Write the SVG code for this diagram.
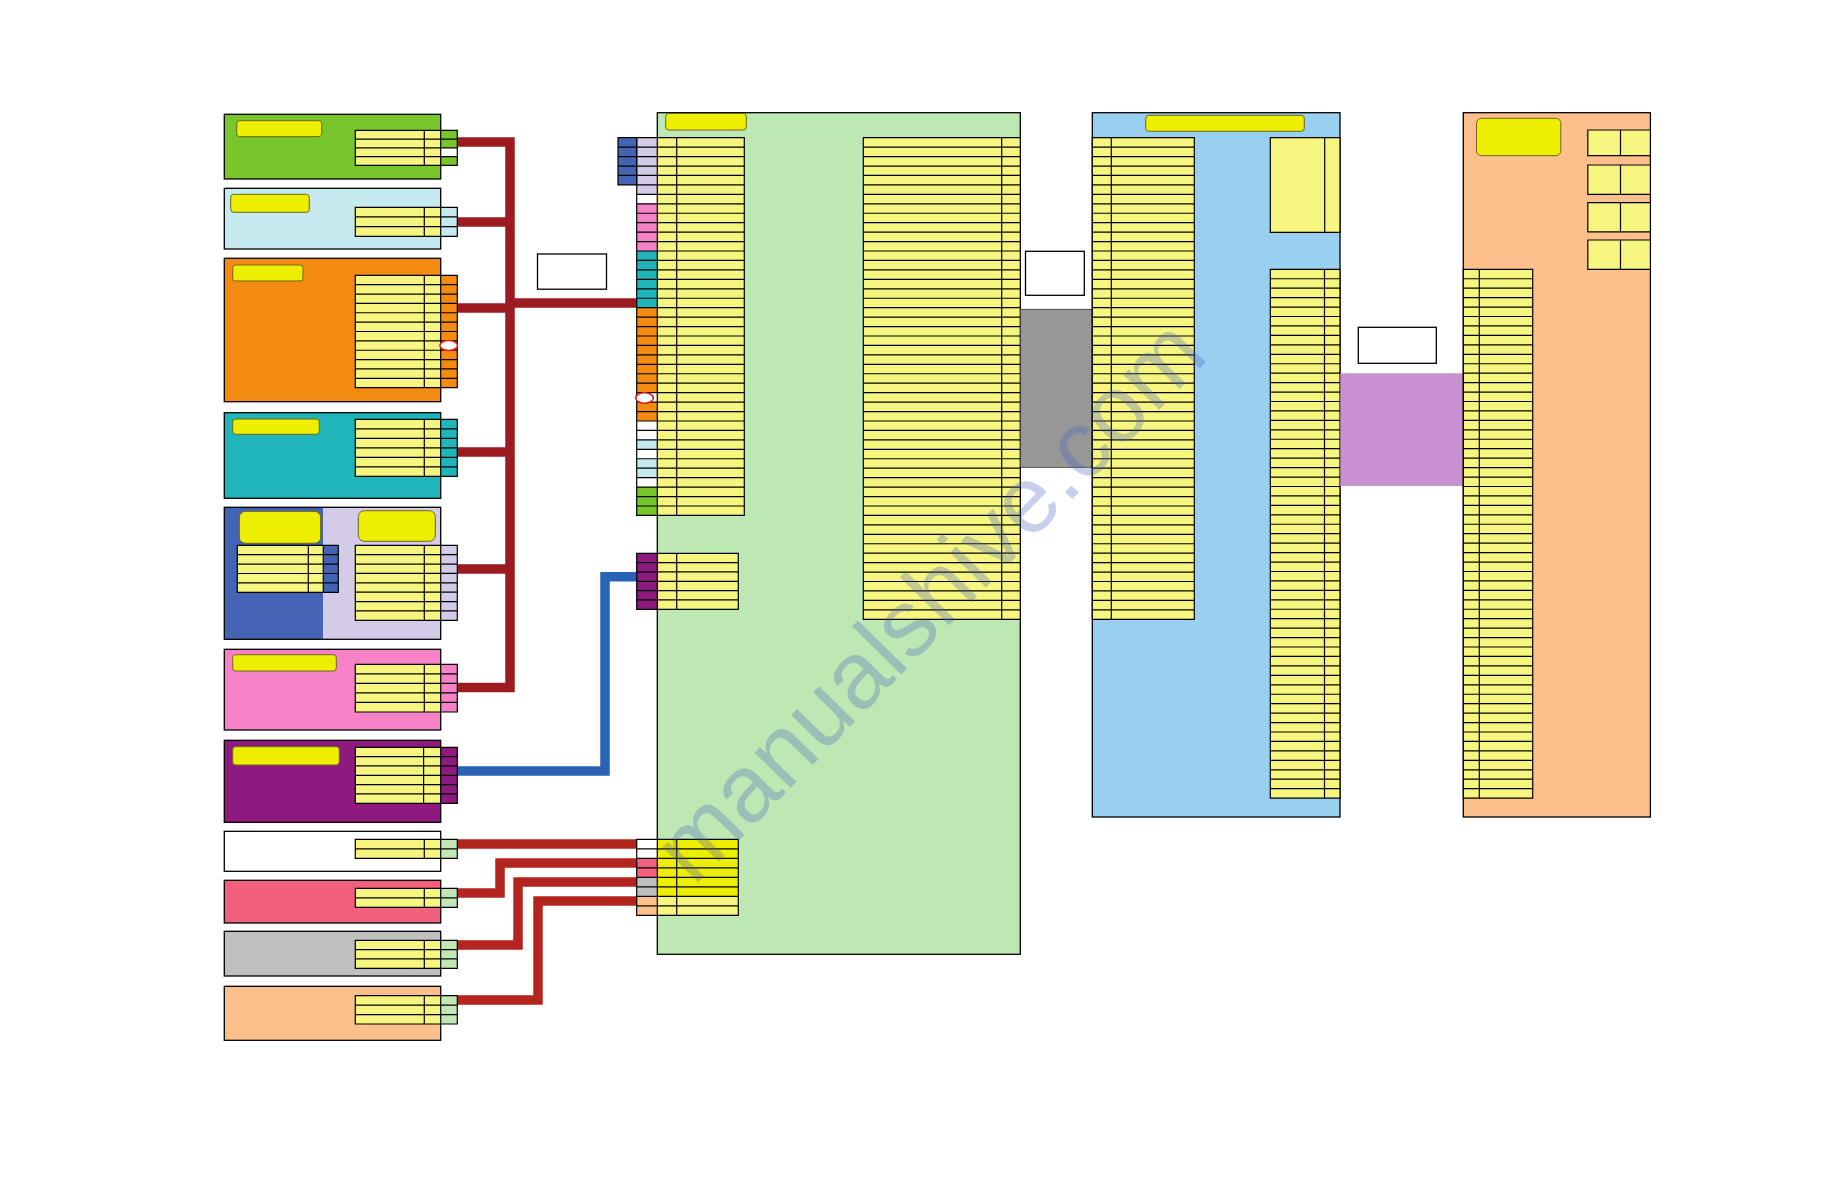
<svg xmlns="http://www.w3.org/2000/svg" width="1836" height="1188" viewBox="0 0 1836 1188">
<style>
.box{stroke:#000;stroke-width:1.3}
.tb{stroke:#000;stroke-width:1.2;fill:none}
.y{fill:#f5f580}
.yb{fill:#eeee00}
.lbl{fill:#eeee00;stroke:#6e6420;stroke-width:1}
.wb{fill:#fff;stroke:#000;stroke-width:1.3}
.red{stroke:#9b1b20;stroke-width:9.5;fill:none}
.red2{stroke:#b3241f;stroke-width:9.5;fill:none}
.blue{stroke:#2a62b6;stroke-width:9.5;fill:none}
.oval{fill:#fff;stroke:#e02020;stroke-width:1.6}
.lg{fill:#c2e6b4}
</style>
<rect width="1836" height="1188" fill="#fff"/>

<g id="connectors">
<path class="red" d="M457.3,142H510V687.5H457.3 M457.3,222H510 M457.3,308H510 M457.3,452H510 M457.3,569H510 M510,303H636.7"/>
<path class="red2" d="M457.3,844H636.7 M457.3,893H500V863H636.7 M457.3,945H518V882H636.7 M457.3,1000H538V901H636.7"/>
<path class="blue" d="M457.3,771H605V576.7H636.7"/>
</g>

<g id="n-green">
<rect class="box" x="224.3" y="114.3" width="216.4" height="64.7" fill="#77c62c"/>
<rect class="lbl" x="236.7" y="120.7" width="85" height="16" rx="3"/>
<rect class="y" x="355.3" y="130.3" width="85.4" height="35"/>
<rect x="440.7" y="130.3" width="16.6" height="35" fill="#77c62c"/>
<rect x="440.7" y="147.8" width="16.6" height="8.75" fill="#fff"/>
<path class="tb" d="M355.3,130.3h102v35h-102z M424.3,130.3v35 M440.7,130.3v35 M355.3,139.05h102 M355.3,147.8h102 M355.3,156.55h102"/>
</g>

<g id="n-lightblue">
<rect class="box" x="224.3" y="188.3" width="216.4" height="60.7" fill="#c5e9ee"/>
<rect class="lbl" x="230.7" y="194.3" width="78.6" height="18" rx="3"/>
<rect class="y" x="355.3" y="207.3" width="85.4" height="29"/>
<rect x="440.7" y="207.3" width="16.6" height="29" fill="#c5e9ee"/>
<path class="tb" d="M355.3,207.3h102v29h-102z M424.3,207.3v29 M440.7,207.3v29 M355.3,216.97h102 M355.3,226.63h102"/>
</g>

<g id="n-orange">
<rect class="box" x="224.3" y="258.3" width="216.4" height="143.4" fill="#f38b12"/>
<rect class="lbl" x="232.7" y="265" width="70.3" height="16" rx="3"/>
<rect class="y" x="355.3" y="275.3" width="85.4" height="112.4"/>
<rect x="440.7" y="275.3" width="16.6" height="112.4" fill="#f38b12"/>
<path class="tb" d="M355.3,275.3h102v112.4h-102z M424.3,275.3v112.4 M440.7,275.3v112.4 M355.3,284.67h102 M355.3,294.03h102 M355.3,303.4h102 M355.3,312.77h102 M355.3,322.13h102 M355.3,331.5h102 M355.3,340.87h102 M355.3,350.23h102 M355.3,359.6h102 M355.3,368.97h102 M355.3,378.33h102"/>
<ellipse class="oval" cx="448.7" cy="345.5" rx="8.8" ry="5"/>
</g>

<g id="n-teal">
<rect class="box" x="224.3" y="412.7" width="216.4" height="85.6" fill="#20b5bb"/>
<rect class="lbl" x="232.7" y="419" width="86.6" height="15.3" rx="3"/>
<rect class="y" x="355.3" y="419.3" width="85.4" height="57"/>
<rect x="440.7" y="419.3" width="16.6" height="57" fill="#20b5bb"/>
<path class="tb" d="M355.3,419.3h102v57h-102z M424.3,419.3v57 M440.7,419.3v57 M355.3,428.8h102 M355.3,438.3h102 M355.3,447.8h102 M355.3,457.3h102 M355.3,466.8h102"/>
</g>

<g id="n-bluelav">
<rect x="224.3" y="507.3" width="216.4" height="132" fill="#d3cbe8"/>
<rect x="224.3" y="507.3" width="98.7" height="132" fill="#4363b5"/>
<rect class="box" x="224.3" y="507.3" width="216.4" height="132" fill="none"/>
<rect class="lbl" x="239.3" y="511.3" width="81.4" height="32" rx="6"/>
<rect class="lbl" x="358.3" y="510.7" width="77" height="30.6" rx="6"/>
<rect class="y" x="237.3" y="545.3" width="86" height="47"/>
<rect x="323.3" y="545.3" width="15" height="47" fill="#4363b5"/>
<path class="tb" d="M237.3,545.3h101v47h-101z M308.3,545.3v47 M323.3,545.3v47 M237.3,554.7h101 M237.3,564.1h101 M237.3,573.5h101 M237.3,582.9h101"/>
<rect class="y" x="355.3" y="545.3" width="85.4" height="75"/>
<rect x="440.7" y="545.3" width="16.6" height="75" fill="#d3cbe8"/>
<path class="tb" d="M355.3,545.3h102v75h-102z M424.3,545.3v75 M440.7,545.3v75 M355.3,554.675h102 M355.3,564.05h102 M355.3,573.425h102 M355.3,582.8h102 M355.3,592.175h102 M355.3,601.55h102 M355.3,610.925h102"/>
</g>

<g id="n-pink">
<rect class="box" x="224.3" y="649.3" width="216.4" height="80.7" fill="#f582c6"/>
<rect class="lbl" x="232.7" y="654.7" width="103.6" height="16.3" rx="3"/>
<rect class="y" x="355.3" y="664.3" width="85.4" height="47.7"/>
<rect x="440.7" y="664.3" width="16.6" height="47.7" fill="#f582c6"/>
<path class="tb" d="M355.3,664.3h102v47.7h-102z M424.3,664.3v47.7 M440.7,664.3v47.7 M355.3,673.84h102 M355.3,683.38h102 M355.3,692.92h102 M355.3,702.46h102"/>
</g>

<g id="n-purple">
<rect class="box" x="224.3" y="740.3" width="216.4" height="82" fill="#8e1a80"/>
<rect class="lbl" x="232.7" y="746.7" width="106.6" height="18.3" rx="3"/>
<rect class="y" x="355.3" y="747.3" width="85.4" height="56"/>
<rect x="440.7" y="747.3" width="16.6" height="56" fill="#8e1a80"/>
<path class="tb" d="M355.3,747.3h102v56h-102z M423.6,747.3v56 M440.7,747.3v56 M355.3,756.63h102 M355.3,765.97h102 M355.3,775.3h102 M355.3,784.63h102 M355.3,793.97h102"/>
</g>

<g id="n-white">
<rect class="box" x="224.3" y="831.3" width="216.4" height="40" fill="#fff"/>
<rect class="y" x="355.3" y="839.3" width="85.4" height="19"/>
<rect class="lg" x="440.7" y="839.3" width="16.6" height="19"/>
<path class="tb" d="M355.3,839.3h102v19h-102z M424.3,839.3v19 M440.7,839.3v19 M355.3,848.8h102"/>
</g>

<g id="n-pinkred">
<rect class="box" x="224.3" y="880.3" width="216.4" height="42.7" fill="#f1617d"/>
<rect class="y" x="355.3" y="888.3" width="85.4" height="19"/>
<rect class="lg" x="440.7" y="888.3" width="16.6" height="19"/>
<path class="tb" d="M355.3,888.3h102v19h-102z M424.3,888.3v19 M440.7,888.3v19 M355.3,897.8h102"/>
</g>

<g id="n-gray">
<rect class="box" x="224.3" y="931.3" width="216.4" height="44.7" fill="#c0c0c0"/>
<rect class="y" x="355.3" y="940.3" width="85.4" height="28"/>
<rect class="lg" x="440.7" y="940.3" width="16.6" height="28"/>
<path class="tb" d="M355.3,940.3h102v28h-102z M424.3,940.3v28 M440.7,940.3v28 M355.3,949.63h102 M355.3,958.97h102"/>
</g>

<g id="n-peachsmall">
<rect class="box" x="224.3" y="986.3" width="216.4" height="54" fill="#fdc08d"/>
<rect class="y" x="355.3" y="995.7" width="85.4" height="28.3"/>
<rect class="lg" x="440.7" y="995.7" width="16.6" height="28.3"/>
<path class="tb" d="M355.3,995.7h102v28.3h-102z M424.3,995.7v28.3 M440.7,995.7v28.3 M355.3,1005.13h102 M355.3,1014.57h102"/>
</g>

<g id="n-box-a"><rect class="wb" x="537.5" y="254" width="69" height="35.2"/></g>

<g id="n-main">
<rect class="box" x="657.3" y="112.7" width="363" height="841.6" fill="#bee8b3"/>
<rect class="lbl" x="665.7" y="113.5" width="80.6" height="16.5" rx="3"/>
<rect class="y" x="657.3" y="137.7" width="87" height="377.7"/>
<rect x="636.7" y="137.7" width="20.6" height="56.66" fill="#d3cbe8"/>
<rect x="636.7" y="194.36" width="20.6" height="9.44" fill="#fff"/>
<rect x="636.7" y="203.8" width="20.6" height="47.2" fill="#f582c6"/>
<rect x="636.7" y="251" width="20.6" height="56.68" fill="#20b5bb"/>
<rect x="636.7" y="307.68" width="20.6" height="84.99" fill="#f38b12"/>
<rect x="636.7" y="392.67" width="20.6" height="9.44" fill="#fff"/>
<rect x="636.7" y="402.1" width="20.6" height="18.89" fill="#f38b12"/>
<rect x="636.7" y="420.99" width="20.6" height="18.89" fill="#fff"/>
<rect x="636.7" y="439.88" width="20.6" height="9.44" fill="#c5e9ee"/>
<rect x="636.7" y="449.32" width="20.6" height="9.44" fill="#fff"/>
<rect x="636.7" y="458.76" width="20.6" height="18.89" fill="#c5e9ee"/>
<rect x="636.7" y="477.65" width="20.6" height="9.44" fill="#fff"/>
<rect x="636.7" y="487.09" width="20.6" height="28.31" fill="#77c62c"/>
<rect x="618" y="137.7" width="18.7" height="47.215" fill="#4363b5"/>
<path class="tb" d="M618,137.7h18.7v47.215h-18.7z M618,147.143h18.7 m-18.7,9.443h18.7 m-18.7,9.443h18.7 m-18.7,9.443h18.7"/>
<path class="tb" d="M636.7,137.7h107.6v377.7h-107.6z M657.3,137.7v377.7 M676.7,137.7v377.7
M636.7,147.143h107.6
m-107.6,9.443h107.6 m-107.6,9.443h107.6 m-107.6,9.443h107.6 m-107.6,9.443h107.6 m-107.6,9.443h107.6
m-107.6,9.443h107.6 m-107.6,9.443h107.6 m-107.6,9.443h107.6 m-107.6,9.443h107.6 m-107.6,9.443h107.6
m-107.6,9.443h107.6 m-107.6,9.443h107.6 m-107.6,9.443h107.6 m-107.6,9.443h107.6 m-107.6,9.443h107.6
m-107.6,9.443h107.6 m-107.6,9.443h107.6 m-107.6,9.443h107.6 m-107.6,9.443h107.6 m-107.6,9.443h107.6
m-107.6,9.443h107.6 m-107.6,9.443h107.6 m-107.6,9.443h107.6 m-107.6,9.443h107.6 m-107.6,9.443h107.6
m-107.6,9.443h107.6 m-107.6,9.443h107.6 m-107.6,9.443h107.6 m-107.6,9.443h107.6 m-107.6,9.443h107.6
m-107.6,9.443h107.6 m-107.6,9.443h107.6 m-107.6,9.443h107.6 m-107.6,9.443h107.6 m-107.6,9.443h107.6
m-107.6,9.443h107.6 m-107.6,9.443h107.6 m-107.6,9.443h107.6"/>
<ellipse class="oval" cx="644.5" cy="398" rx="8.8" ry="5.3"/>
<rect class="y" x="657.3" y="553.3" width="81" height="56"/>
<rect x="636.7" y="553.3" width="20.6" height="56" fill="#8e1a80"/>
<path class="tb" d="M636.7,553.3h101.6v56h-101.6z M657.3,553.3v56 M676.7,553.3v56 M636.7,562.63h101.6 M636.7,571.97h101.6 M636.7,581.3h101.6 M636.7,590.63h101.6 M636.7,599.97h101.6"/>
<rect class="yb" x="657.3" y="839.3" width="81" height="57"/>
<rect class="y" x="657.3" y="896.3" width="81" height="19"/>
<rect x="636.7" y="839.3" width="20.6" height="19" fill="#fff"/>
<rect x="636.7" y="858.3" width="20.6" height="19" fill="#f1617d"/>
<rect x="636.7" y="877.3" width="20.6" height="19" fill="#c0c0c0"/>
<rect x="636.7" y="896.3" width="20.6" height="19" fill="#fdc08d"/>
<path class="tb" d="M636.7,839.3h101.6v76h-101.6z M657.3,839.3v76 M676.7,839.3v76 M636.7,848.8h101.6 M636.7,858.3h101.6 M636.7,867.8h101.6 M636.7,877.3h101.6 M636.7,886.8h101.6 M636.7,896.3h101.6 M636.7,905.8h101.6"/>
<rect class="y" x="863.3" y="137.7" width="157" height="481.6"/>
<path class="tb" d="M863.3,137.7h157v481.6h-157z M1001.7,137.7v481.6
M863.3,147.143h157
m-157,9.443h157 m-157,9.443h157 m-157,9.443h157 m-157,9.443h157 m-157,9.443h157
m-157,9.443h157 m-157,9.443h157 m-157,9.443h157 m-157,9.443h157 m-157,9.443h157
m-157,9.443h157 m-157,9.443h157 m-157,9.443h157 m-157,9.443h157 m-157,9.443h157
m-157,9.443h157 m-157,9.443h157 m-157,9.443h157 m-157,9.443h157 m-157,9.443h157
m-157,9.443h157 m-157,9.443h157 m-157,9.443h157 m-157,9.443h157 m-157,9.443h157
m-157,9.443h157 m-157,9.443h157 m-157,9.443h157 m-157,9.443h157 m-157,9.443h157
m-157,9.443h157 m-157,9.443h157 m-157,9.443h157 m-157,9.443h157 m-157,9.443h157
m-157,9.443h157 m-157,9.443h157 m-157,9.443h157 m-157,9.443h157 m-157,9.443h157
m-157,9.443h157 m-157,9.443h157 m-157,9.443h157 m-157,9.443h157 m-157,9.443h157
m-157,9.443h157 m-157,9.443h157 m-157,9.443h157 m-157,9.443h157"/>
</g>

<g id="n-band-gray">
<rect x="1020.3" y="309.3" width="72" height="158" fill="#979797" stroke="#333" stroke-width="0.8"/>
</g>
<g id="n-box-b"><rect class="wb" x="1025.5" y="251.3" width="58.8" height="44"/></g>

<g id="n-blue">
<rect class="box" x="1092.3" y="112.7" width="247.7" height="704.3" fill="#99cff0"/>
<rect class="lbl" x="1145.7" y="115.3" width="158.6" height="16" rx="3"/>
<rect class="y" x="1092.3" y="137.7" width="102" height="481.6"/>
<path class="tb" d="M1092.3,137.7h102v481.6h-102z M1111.3,137.7v481.6
M1092.3,147.143h102
m-102,9.443h102 m-102,9.443h102 m-102,9.443h102 m-102,9.443h102 m-102,9.443h102
m-102,9.443h102 m-102,9.443h102 m-102,9.443h102 m-102,9.443h102 m-102,9.443h102
m-102,9.443h102 m-102,9.443h102 m-102,9.443h102 m-102,9.443h102 m-102,9.443h102
m-102,9.443h102 m-102,9.443h102 m-102,9.443h102 m-102,9.443h102 m-102,9.443h102
m-102,9.443h102 m-102,9.443h102 m-102,9.443h102 m-102,9.443h102 m-102,9.443h102
m-102,9.443h102 m-102,9.443h102 m-102,9.443h102 m-102,9.443h102 m-102,9.443h102
m-102,9.443h102 m-102,9.443h102 m-102,9.443h102 m-102,9.443h102 m-102,9.443h102
m-102,9.443h102 m-102,9.443h102 m-102,9.443h102 m-102,9.443h102 m-102,9.443h102
m-102,9.443h102 m-102,9.443h102 m-102,9.443h102 m-102,9.443h102 m-102,9.443h102
m-102,9.443h102 m-102,9.443h102 m-102,9.443h102 m-102,9.443h102"/>
<rect class="y" x="1270.3" y="137.7" width="69.7" height="94.6"/>
<path class="tb" d="M1270.3,137.7h69.7v94.6h-69.7z M1324.7,137.7v94.6"/>
<rect class="y" x="1270.3" y="269.3" width="69.7" height="528.8"/>
<path class="tb" d="M1270.3,269.3h69.7v528.8h-69.7z M1324.5,269.3v528.8
M1270.3,278.743h69.7
m-69.7,9.443h69.7 m-69.7,9.443h69.7 m-69.7,9.443h69.7 m-69.7,9.443h69.7 m-69.7,9.443h69.7
m-69.7,9.443h69.7 m-69.7,9.443h69.7 m-69.7,9.443h69.7 m-69.7,9.443h69.7 m-69.7,9.443h69.7
m-69.7,9.443h69.7 m-69.7,9.443h69.7 m-69.7,9.443h69.7 m-69.7,9.443h69.7 m-69.7,9.443h69.7
m-69.7,9.443h69.7 m-69.7,9.443h69.7 m-69.7,9.443h69.7 m-69.7,9.443h69.7 m-69.7,9.443h69.7
m-69.7,9.443h69.7 m-69.7,9.443h69.7 m-69.7,9.443h69.7 m-69.7,9.443h69.7 m-69.7,9.443h69.7
m-69.7,9.443h69.7 m-69.7,9.443h69.7 m-69.7,9.443h69.7 m-69.7,9.443h69.7 m-69.7,9.443h69.7
m-69.7,9.443h69.7 m-69.7,9.443h69.7 m-69.7,9.443h69.7 m-69.7,9.443h69.7 m-69.7,9.443h69.7
m-69.7,9.443h69.7 m-69.7,9.443h69.7 m-69.7,9.443h69.7 m-69.7,9.443h69.7 m-69.7,9.443h69.7
m-69.7,9.443h69.7 m-69.7,9.443h69.7 m-69.7,9.443h69.7 m-69.7,9.443h69.7 m-69.7,9.443h69.7
m-69.7,9.443h69.7 m-69.7,9.443h69.7 m-69.7,9.443h69.7 m-69.7,9.443h69.7 m-69.7,9.443h69.7
m-69.7,9.443h69.7 m-69.7,9.443h69.7 m-69.7,9.443h69.7 m-69.7,9.443h69.7"/>
</g>

<g id="n-band-purple">
<rect x="1340.3" y="373.3" width="123" height="112.7" fill="#c792cf"/>
</g>
<g id="n-box-c"><rect class="wb" x="1358.3" y="327.3" width="78" height="36"/></g>

<g id="n-peach">
<rect class="box" x="1463.3" y="112.7" width="187.1" height="704.3" fill="#fdc08d"/>
<rect class="lbl" x="1476.5" y="118.3" width="84.3" height="37.4" rx="5"/>
<rect class="y" x="1587.8" y="130" width="62.6" height="25.7"/>
<rect class="y" x="1587.8" y="165" width="62.6" height="29.4"/>
<rect class="y" x="1587.8" y="202.6" width="62.6" height="29.2"/>
<rect class="y" x="1587.8" y="240" width="62.6" height="29.3"/>
<path class="tb" d="M1587.8,130h62.6v25.7h-62.6z M1620.5,130v25.7 M1587.8,165h62.6v29.4h-62.6z M1620.5,165v29.4 M1587.8,202.6h62.6v29.2h-62.6z M1620.5,202.6v29.2 M1587.8,240h62.6v29.3h-62.6z M1620.5,240v29.3"/>
<rect class="y" x="1463.3" y="269.3" width="69.4" height="528.8"/>
<path class="tb" d="M1463.3,269.3h69.4v528.8h-69.4z M1479.3,269.3v528.8
M1463.3,278.743h69.4
m-69.4,9.443h69.4 m-69.4,9.443h69.4 m-69.4,9.443h69.4 m-69.4,9.443h69.4 m-69.4,9.443h69.4
m-69.4,9.443h69.4 m-69.4,9.443h69.4 m-69.4,9.443h69.4 m-69.4,9.443h69.4 m-69.4,9.443h69.4
m-69.4,9.443h69.4 m-69.4,9.443h69.4 m-69.4,9.443h69.4 m-69.4,9.443h69.4 m-69.4,9.443h69.4
m-69.4,9.443h69.4 m-69.4,9.443h69.4 m-69.4,9.443h69.4 m-69.4,9.443h69.4 m-69.4,9.443h69.4
m-69.4,9.443h69.4 m-69.4,9.443h69.4 m-69.4,9.443h69.4 m-69.4,9.443h69.4 m-69.4,9.443h69.4
m-69.4,9.443h69.4 m-69.4,9.443h69.4 m-69.4,9.443h69.4 m-69.4,9.443h69.4 m-69.4,9.443h69.4
m-69.4,9.443h69.4 m-69.4,9.443h69.4 m-69.4,9.443h69.4 m-69.4,9.443h69.4 m-69.4,9.443h69.4
m-69.4,9.443h69.4 m-69.4,9.443h69.4 m-69.4,9.443h69.4 m-69.4,9.443h69.4 m-69.4,9.443h69.4
m-69.4,9.443h69.4 m-69.4,9.443h69.4 m-69.4,9.443h69.4 m-69.4,9.443h69.4 m-69.4,9.443h69.4
m-69.4,9.443h69.4 m-69.4,9.443h69.4 m-69.4,9.443h69.4 m-69.4,9.443h69.4 m-69.4,9.443h69.4
m-69.4,9.443h69.4 m-69.4,9.443h69.4 m-69.4,9.443h69.4 m-69.4,9.443h69.4"/>
</g>

<text x="929" y="632" transform="rotate(-45.7 929 600)" text-anchor="middle" font-family="Liberation Sans, Arial, sans-serif" font-size="95" fill="#4a5fc0" fill-opacity="0.3">manualshive.com</text>
</svg>
